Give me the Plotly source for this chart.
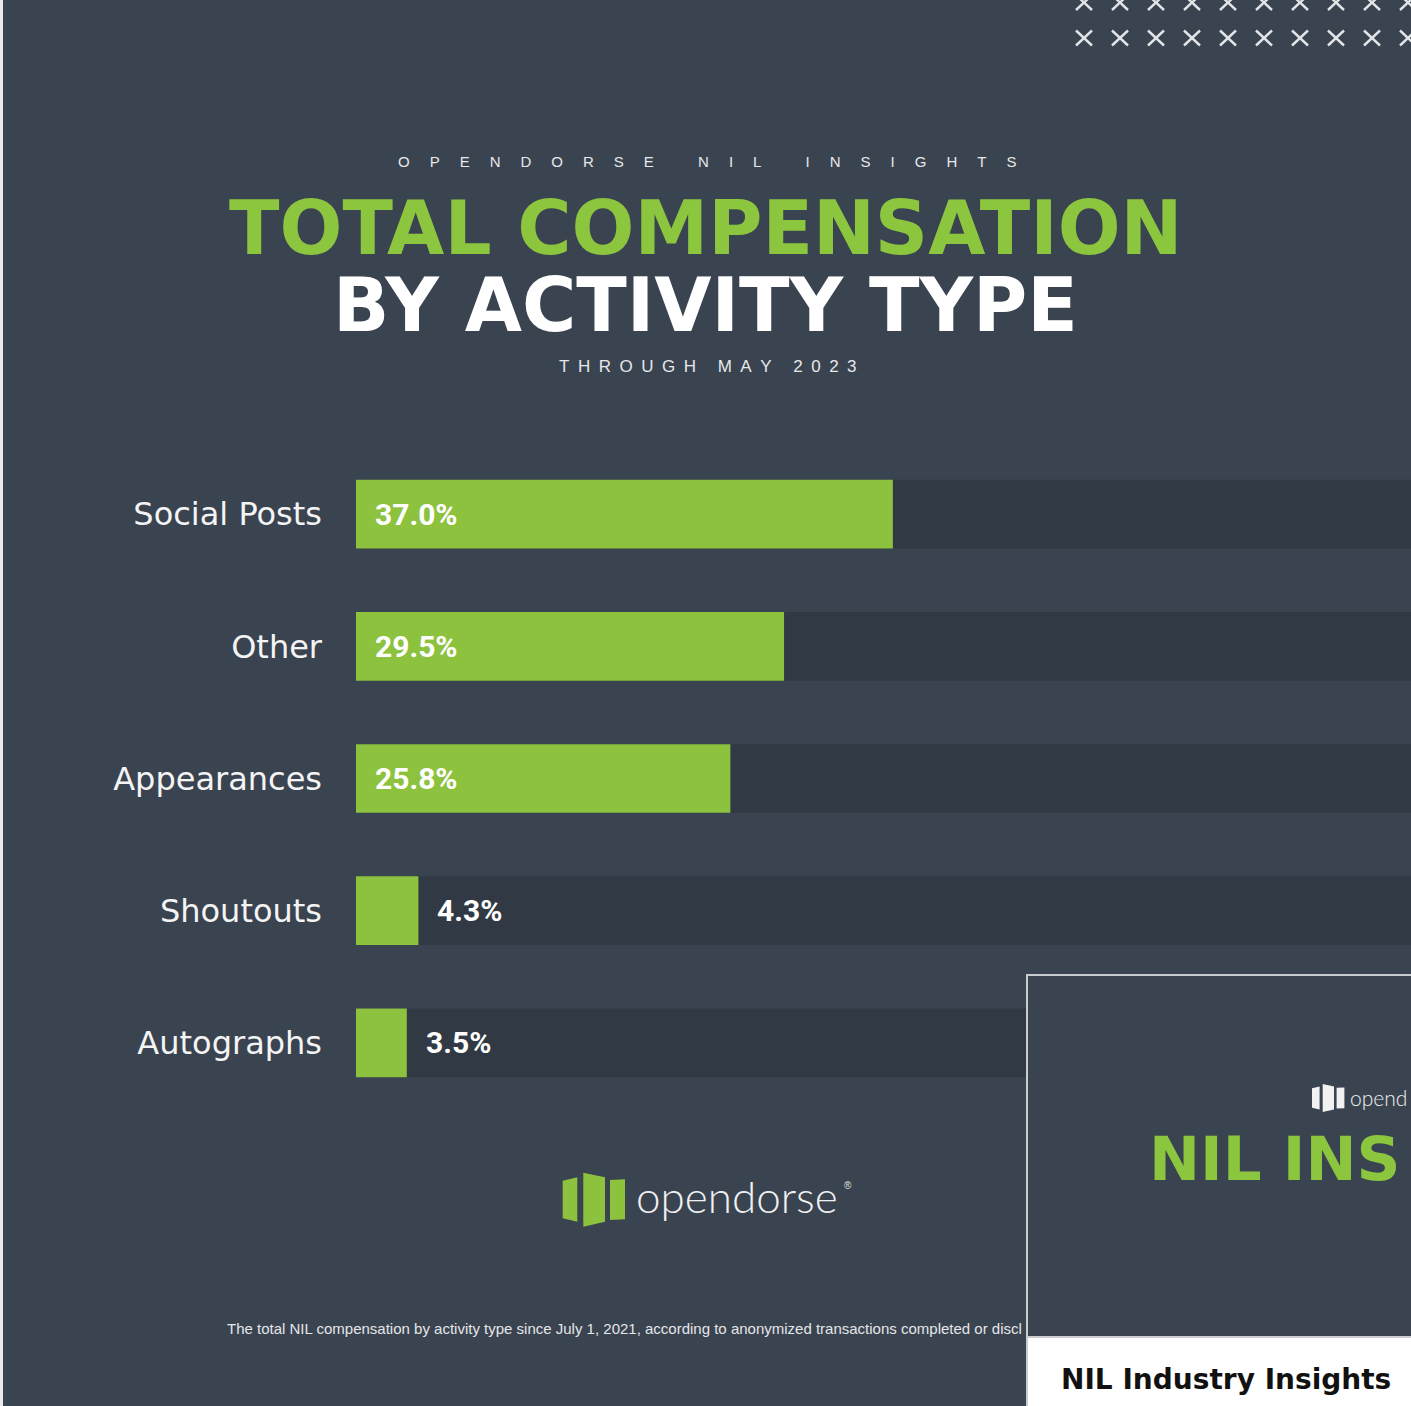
import plotly.graph_objects as go

# ---------------- data ----------------
categories = ["Social Posts", "Other", "Appearances", "Shoutouts", "Autographs"]
shares = [37.0, 29.5, 25.8, 4.3, 3.5]          # % of total NIL compensation
share_labels = ["37.0%", "29.5%", "25.8%", "4.3%", "3.5%"]
track_full = 100.0                              # full scale of the background track

# ---------------- styling ----------------
W, H = 1411, 1406
BG = "#3a4350"
TRACK = "#313945"
GREEN = "#8dc23f"
TITLE_GREEN = "#8cc63f"
WHITE = "#f4f4f4"


def px(x):
    return x / W


def py(y):
    return 1 - y / H


fig = go.Figure()

fig.add_trace(go.Bar(
    y=categories, x=[track_full] * len(categories), orientation="h",
    marker=dict(color=TRACK, line=dict(width=0)), width=0.52,
    hoverinfo="skip", showlegend=False,
))
fig.add_trace(go.Bar(
    y=categories, x=shares, orientation="h",
    marker=dict(color=GREEN, line=dict(width=0), cornerradius=3), width=0.52,
    hovertemplate="%{y}: %{x:.1f}%<extra></extra>", showlegend=False,
))

annotations = []
# value labels
for cat, v, lab in zip(categories, shares, share_labels):
    inside = v > 10
    annotations.append(dict(
        x=0 if inside else v, y=cat, xref="x", yref="y",
        xanchor="left", yanchor="middle", xshift=17,
        text=lab, showarrow=False,
        font=dict(family="Roboto, Liberation Sans, Arial", size=30, color="#ffffff", weight="bold"),
    ))


def spaced(text, gap, word_gap):
    words = text.split(" ")
    return word_gap.join(gap.join(list(w)) for w in words)


top_gap = "\u2003\u2005\u200a"
annotations.append(dict(
    x=px(707), y=py(161), xref="paper", yref="paper", xanchor="center", yanchor="middle",
    text=spaced("OPENDORSE NIL INSIGHTS", top_gap, top_gap + " " + top_gap), showarrow=False,
    font=dict(family="Liberation Sans, Arial", size=15, color="#e6e8ea"),
))
annotations.append(dict(
    x=px(706), y=py(228), xref="paper", yref="paper", xanchor="center", yanchor="middle",
    text="TOTAL COMPENSATION", showarrow=False, height=66, valign="middle",
    font=dict(family="DejaVu Sans", size=74, color=TITLE_GREEN, weight="bold"),
))
annotations.append(dict(
    x=px(705), y=py(305), xref="paper", yref="paper", xanchor="center", yanchor="middle",
    text="BY ACTIVITY TYPE", showarrow=False, height=66, valign="middle",
    font=dict(family="DejaVu Sans", size=74, color="#ffffff", weight="bold"),
))
sub_gap = "\u2002"
annotations.append(dict(
    x=px(708), y=py(366), xref="paper", yref="paper", xanchor="center", yanchor="middle",
    text=spaced("THROUGH MAY 2023", sub_gap, sub_gap + " " + sub_gap), showarrow=False,
    font=dict(family="Liberation Sans, Arial", size=17, color="#e6e8ea"),
))

# logo text
annotations.append(dict(
    x=px(634), y=py(1196), xref="paper", yref="paper", xanchor="left", yanchor="middle",
    text="opendorse", showarrow=False,
    font=dict(family="Lato", size=44, color="#f0f0f0", weight=300),
))
annotations.append(dict(
    x=px(848), y=py(1185), xref="paper", yref="paper", xanchor="center", yanchor="middle",
    text="®", showarrow=False,
    font=dict(family="Liberation Sans", size=10, color="#e0e0e0"),
))

# footnote
annotations.append(dict(
    x=px(225), y=py(1328), xref="paper", yref="paper", xanchor="left", yanchor="middle",
    text="The total NIL compensation by activity type since July 1, 2021, according to anonymized transactions completed or discl",
    showarrow=False,
    font=dict(family="Liberation Sans, Arial", size=15, color="#e4e6e8"),
))

# inset card texts
annotations.append(dict(
    x=px(1147), y=py(1158), xref="paper", yref="paper", xanchor="left", yanchor="middle",
    text="NIL INS", showarrow=False,
    font=dict(family="DejaVu Sans", size=61, color=TITLE_GREEN, weight="bold"),
))
annotations.append(dict(
    x=px(1348), y=py(1097), xref="paper", yref="paper", xanchor="left", yanchor="middle",
    text="opend", showarrow=False,
    font=dict(family="Lato", size=21, color="#f0f0f0", weight=300),
))
annotations.append(dict(
    x=px(1059), y=py(1379), xref="paper", yref="paper", xanchor="left", yanchor="middle",
    text="NIL Industry Insights", showarrow=False,
    font=dict(family="DejaVu Sans", size=28, color="#111111", weight="bold"),
))

shapes = []
# X pattern top right
for cy in (2.5, 38):
    for i in range(10):
        cx = 1084 + 36 * i
        shapes.append(dict(
            type="line", xref="paper", yref="paper",
            x0=px(cx - 8), y0=py(cy - 7.5), x1=px(cx + 8), y1=py(cy + 7.5),
            line=dict(color="#e2e5e8", width=2.4),
        ))
        shapes.append(dict(
            type="line", xref="paper", yref="paper",
            x0=px(cx - 8), y0=py(cy + 7.5), x1=px(cx + 8), y1=py(cy - 7.5),
            line=dict(color="#e2e5e8", width=2.4),
        ))

# logo icon panels
panels = [
    [(562.7, 1180.7), (577.3, 1177.3), (577.3, 1221.7), (562.7, 1218.3)],
    [(583.3, 1172.7), (605.0, 1177.3), (605.0, 1221.7), (583.3, 1226.7)],
    [(610.0, 1180.0), (625.0, 1179.3), (625.0, 1219.3), (610.0, 1220.0)],
]


def panel_path(pts):
    return "M " + " L ".join(f"{px(x):.5f},{py(y):.5f}" for x, y in pts) + " Z"


for pts in panels:
    shapes.append(dict(type="path", xref="paper", yref="paper", path=panel_path(pts),
                       fillcolor=GREEN, line=dict(width=0), layer="above"))

# inset card
shapes.append(dict(type="rect", xref="paper", yref="paper",
                   x0=px(1027), y0=py(975), x1=px(1413), y1=py(1337),
                   fillcolor="#3a4450", line=dict(color="#c9ccd0", width=2), layer="above"))
shapes.append(dict(type="rect", xref="paper", yref="paper",
                   x0=px(1027), y0=py(1337), x1=px(1413), y1=py(1408),
                   fillcolor="#ffffff", line=dict(color="#c9ccd0", width=2), layer="above"))
# small white logo in the card
s = 0.52
for pts in panels:
    small = [(1312 + (x - 562.7) * s, 1084 + (y - 1172.7) * s) for x, y in pts]
    shapes.append(dict(type="path", xref="paper", yref="paper", path=panel_path(small),
                       fillcolor="#f2f2f2", line=dict(width=0), layer="above"))

# light left edge strip
shapes.append(dict(type="rect", xref="paper", yref="paper",
                   x0=0, y0=0, x1=px(3), y1=1,
                   fillcolor="#e9eaeb", line=dict(width=0), layer="above"))

fig.update_layout(
    width=W, height=H,
    margin=dict(l=0, r=0, t=0, b=0),
    paper_bgcolor=BG, plot_bgcolor="rgba(0,0,0,0)",
    barmode="overlay", bargap=0.48,
    xaxis=dict(domain=[px(356), 1], range=[0, (W - 356) / 14.51],
               visible=False, fixedrange=True),
    yaxis=dict(domain=[py(1109), py(448)], type="category",
               categoryorder="array", categoryarray=categories, autorange="reversed",
               showgrid=False, zeroline=False, showline=False, ticks="",
               ticklabelstandoff=33, fixedrange=True,
               tickfont=dict(family="DejaVu Sans", size=32, color=WHITE)),
    annotations=annotations,
    shapes=shapes,
    showlegend=False,
)

fig.write_html("out.html",
               config={"displayModeBar": False},
               post_script="document.body.style.margin='0';document.body.style.overflow='hidden';")
